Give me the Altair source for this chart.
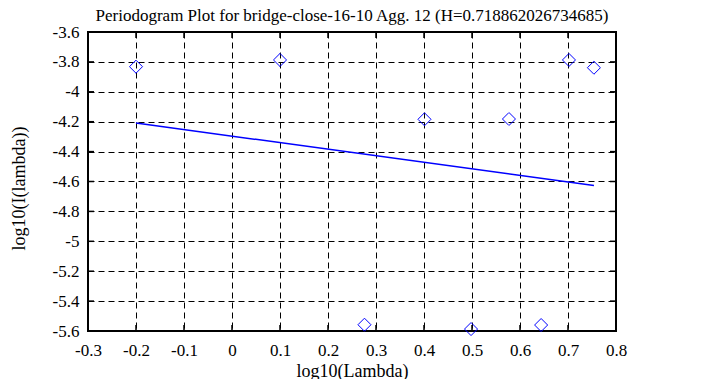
import altair as alt
import pandas as pd

# data
lam = [-0.2, 0.1, 0.276, 0.401, 0.498, 0.577, 0.644, 0.702, 0.754]
log_i = [-3.832, -3.787, -5.558, -4.184, -5.587, -4.182, -5.56, -3.787, -3.839]
fit_x = [-0.2, 0.754]
fit_y = [-4.209, -4.626]
x_ticks = [-0.3, -0.2, -0.1, 0.0, 0.1, 0.2, 0.3, 0.4, 0.5, 0.6, 0.7, 0.8]
y_ticks = [-5.6, -5.4, -5.2, -5.0, -4.8, -4.6, -4.4, -4.2, -4.0, -3.8, -3.6]

title = "Periodogram Plot for bridge-close-16-10 Agg. 12 (H=0.718862026734685)"

W, H = 528, 299
FONT = "Liberation Serif"
BLUE = "#0000ff"

pts = pd.DataFrame({"x": lam, "y": log_i})
fit = pd.DataFrame({"x": fit_x, "y": fit_y})
xt = pd.DataFrame({"x": x_ticks})
yt = pd.DataFrame({"y": y_ticks})

lbl = "toString(round(datum.value*10)/10)"

xscale = alt.Scale(domain=[-0.3, 0.8], nice=False, zero=False)
yscale = alt.Scale(domain=[-5.6, -3.6], nice=False, zero=False)

xaxis = alt.Axis(values=x_ticks, tickCount=len(x_ticks), labelExpr=lbl, title="log10(Lambda)",
                 labelPadding=11, titleX=W / 2, titleY=45,
                 titleBaseline="alphabetic", titleAlign="center")
yaxis = alt.Axis(values=y_ticks, tickCount=len(y_ticks), labelExpr=lbl, title="log10(I(lambda))",
                 labelPadding=9, titleX=-69, titleY=156, titleAngle=270,
                 titleAlign="center", titleBaseline="middle")

base_x = alt.X("x:Q", scale=xscale, axis=xaxis)
base_y = alt.Y("y:Q", scale=yscale, axis=yaxis)

fit_line = alt.Chart(fit).mark_line(color=BLUE, strokeWidth=1.5).encode(x=base_x, y=base_y)
points = alt.Chart(pts).mark_point(shape="diamond", size=170, color=BLUE,
                                   strokeWidth=1, filled=False, opacity=1).encode(x=base_x, y=base_y)

tick_len = 6
xt_bottom = alt.Chart(xt).mark_rule(color="black", strokeWidth=1.5).encode(
    x=base_x, y=alt.value(H), y2=alt.value(H - tick_len))
xt_top = alt.Chart(xt).mark_rule(color="black", strokeWidth=1.5).encode(
    x=base_x, y=alt.value(0), y2=alt.value(tick_len))
yt_left = alt.Chart(yt).mark_rule(color="black", strokeWidth=1.5).encode(
    y=base_y, x=alt.value(0), x2=alt.value(tick_len))
yt_right = alt.Chart(yt).mark_rule(color="black", strokeWidth=1.5).encode(
    y=base_y, x=alt.value(W), x2=alt.value(W - tick_len))

chart = alt.layer(fit_line, points, xt_bottom, xt_top, yt_left, yt_right).properties(
    width=W, height=H,
    title=alt.TitleParams(title, font=FONT, fontSize=17, fontWeight="normal",
                          color="black", anchor="middle", baseline="alphabetic", offset=-15),
    padding={"left": 80, "top": 24, "right": 81, "bottom": 48},
    autosize=alt.AutoSizeParams(type="none"),
).configure(
    background="white"
).configure_view(
    stroke="black", strokeWidth=2
).configure_axis(
    grid=True, gridColor="black", gridDash=[6, 4], gridWidth=1, gridOpacity=1,
    domain=False, ticks=False, labelOverlap=False, labelFlush=False,
    labelFont=FONT, labelFontSize=17, labelColor="black",
    titleFont=FONT, titleFontSize=18, titleFontWeight="normal", titleColor="black",
)

chart.save("out.html", embed_options={"renderer": "svg", "actions": False})
